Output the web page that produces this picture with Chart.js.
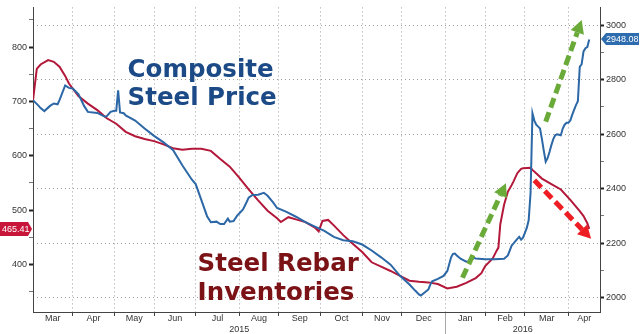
<!DOCTYPE html>
<html lang="en">
<head>
  <meta charset="UTF-8">
  <title>Composite Steel Price vs Steel Rebar Inventories</title>
  <style>
    html, body { margin: 0; padding: 0; background: #fff; }
    #chartcontainer { position: relative; width: 640px; height: 334px; }
  </style>
</head>
<body>
  <div id="chartcontainer">
    <canvas id="myChart"></canvas>
  </div>

  <script src="https://cdn.jsdelivr.net/npm/chart.js"></script>
  <script>
// Composite steel price (right axis)
const priceDates = [
  '2015-03-03', '2015-03-06', '2015-03-09', '2015-03-11', '2015-03-16', '2015-03-18', '2015-03-20', '2015-03-23',
  '2015-03-26', '2015-03-30', '2015-04-01', '2015-04-06', '2015-04-09', '2015-04-13', '2015-04-20', '2015-04-24',
  '2015-04-27', '2015-04-29', '2015-05-01', '2015-05-04', '2015-05-05', '2015-05-06', '2015-05-08', '2015-05-11',
  '2015-05-18', '2015-05-25', '2015-06-01', '2015-06-08', '2015-06-15', '2015-06-22', '2015-06-29', '2015-07-01',
  '2015-07-06', '2015-07-09', '2015-07-13', '2015-07-16', '2015-07-20', '2015-07-22', '2015-07-24', '2015-07-27',
  '2015-07-29', '2015-07-31', '2015-08-03', '2015-08-05', '2015-08-07', '2015-08-10', '2015-08-12', '2015-08-17',
  '2015-08-20', '2015-08-24', '2015-08-27', '2015-08-31', '2015-09-07', '2015-09-14', '2015-09-21', '2015-09-28',
  '2015-10-05', '2015-10-12', '2015-10-19', '2015-10-26', '2015-11-02', '2015-11-09', '2015-11-16', '2015-11-23',
  '2015-11-30', '2015-12-07', '2015-12-10', '2015-12-14', '2015-12-15', '2015-12-17', '2015-12-21', '2015-12-22',
  '2015-12-23', '2015-12-28', '2015-12-31', '2016-01-04', '2016-01-06', '2016-01-07', '2016-01-08', '2016-01-11',
  '2016-01-13', '2016-01-18', '2016-01-20', '2016-01-22', '2016-01-25', '2016-02-01', '2016-02-08', '2016-02-15',
  '2016-02-17', '2016-02-19', '2016-02-22', '2016-02-24', '2016-02-25', '2016-02-26', '2016-02-29', '2016-03-01',
  '2016-03-02', '2016-03-03', '2016-03-04', '2016-03-07', '2016-03-08', '2016-03-09', '2016-03-10', '2016-03-11',
  '2016-03-14', '2016-03-15', '2016-03-16', '2016-03-17', '2016-03-18', '2016-03-21', '2016-03-22', '2016-03-23',
  '2016-03-24', '2016-03-25', '2016-03-28', '2016-03-29', '2016-03-30', '2016-03-31', '2016-04-01', '2016-04-04',
  '2016-04-05', '2016-04-06', '2016-04-07', '2016-04-08', '2016-04-11', '2016-04-12', '2016-04-13', '2016-04-14',
  '2016-04-15', '2016-04-18'
];
const priceValues = [
  2725, 2704, 2696, 2685, 2704, 2713, 2710, 2725,
  2779, 2770, 2768, 2747, 2704, 2682, 2678, 2664,
  2666, 2682, 2686, 2686, 2761, 2680, 2677, 2669,
  2650, 2621, 2594, 2570, 2542, 2485, 2433, 2417,
  2358, 2299, 2277, 2279, 2270, 2270, 2290, 2279,
  2281, 2302, 2309, 2324, 2352, 2367, 2377, 2378,
  2385, 2374, 2349, 2329, 2315, 2297, 2277, 2261,
  2245, 2223, 2211, 2207, 2195, 2173, 2148, 2121,
  2080, 2048, 2026, 2012, 2008, 2019, 2030, 2048,
  2060, 2069, 2080, 2098, 2148, 2161, 2162, 2155,
  2143, 2132, 2134, 2146, 2144, 2141, 2141, 2143,
  2155, 2191, 2199, 2216, 2223, 2213, 2220, 2238,
  2256, 2284, 2385, 2677, 2650, 2635, 2628, 2621,
  2582, 2539, 2499, 2512, 2535, 2560, 2582, 2596,
  2600, 2598, 2596, 2621, 2635, 2642, 2642, 2650,
  2671, 2689, 2707, 2721, 2847, 2857, 2904, 2916,
  2920, 2948.08
];

// Steel rebar inventories (left axis)
const rebarDates = [
  '2015-03-03', '2015-03-05', '2015-03-09', '2015-03-13', '2015-03-18', '2015-03-23', '2015-03-26', '2015-03-30',
  '2015-04-06', '2015-04-13', '2015-04-20', '2015-04-27', '2015-05-04', '2015-05-11', '2015-05-18', '2015-05-25',
  '2015-06-01', '2015-06-08', '2015-06-15', '2015-06-22', '2015-06-29', '2015-07-06', '2015-07-13', '2015-07-20',
  '2015-07-27', '2015-08-03', '2015-08-10', '2015-08-17', '2015-08-24', '2015-08-31', '2015-09-02', '2015-09-08',
  '2015-09-14', '2015-09-21', '2015-09-28', '2015-09-30', '2015-10-02', '2015-10-07', '2015-10-12', '2015-10-19',
  '2015-10-26', '2015-11-02', '2015-11-09', '2015-11-16', '2015-11-23', '2015-11-30', '2015-12-07', '2015-12-14',
  '2015-12-21', '2015-12-28', '2016-01-04', '2016-01-11', '2016-01-18', '2016-01-25', '2016-01-28', '2016-02-01',
  '2016-02-05', '2016-02-08', '2016-02-09', '2016-02-10', '2016-02-11', '2016-02-12', '2016-02-15', '2016-02-17',
  '2016-02-19', '2016-02-22', '2016-02-24', '2016-02-26', '2016-02-29', '2016-03-04', '2016-03-07', '2016-03-14',
  '2016-03-21', '2016-03-28', '2016-04-04', '2016-04-11', '2016-04-13', '2016-04-15', '2016-04-18'
];
const rebarValues = [
  702, 760, 768, 776, 773, 764, 747, 733,
  710, 696, 684, 669, 659, 644, 636, 631,
  627, 621, 614, 611, 613, 613, 609, 594,
  580, 560, 538, 518, 499, 485, 478, 487,
  483, 478, 468, 461, 480, 482, 472, 454,
  438, 423, 404, 396, 388, 379, 370, 368,
  367, 364, 356, 359, 366, 375, 384, 397,
  411, 418, 425, 431, 474, 492, 510, 534,
  546, 553, 568, 576, 577, 578, 574, 558,
  548, 538, 519, 498, 489, 476, 465.41
];

// axis ticks and labels
const monthStarts = ['2015-04-01', '2015-05-01', '2015-06-01', '2015-07-01', '2015-08-01', '2015-09-01', '2015-10-01',
  '2015-11-01', '2015-12-01', '2016-01-01', '2016-02-01', '2016-03-01', '2016-04-01'];
const monthLabels = ['Mar', 'Apr', 'May', 'Jun', 'Jul', 'Aug', 'Sep', 'Oct', 'Nov', 'Dec', 'Jan', 'Feb', 'Mar', 'Apr'];
const yearBreak = '2016-01-01';
const yearLabels = ['2015', '2016'];
const leftTicks = [400, 500, 600, 700, 800];
const leftMinorTicks = [350, 450, 550, 650, 750, 850];
const rightTicks = [2000, 2200, 2400, 2600, 2800, 3000];
const rightMinorTicks = [2100, 2300, 2500, 2700, 2900];

// annotations: [date, right axis value]
const notes = [
  { lines: ['Composite', 'Steel Price'], at: ['2015-05-12', 2811, 2707], color: '#1b4a86' },
  { lines: ['Steel Rebar', 'Inventories'], at: ['2015-07-02', 2098, 1990], color: '#7a1216' }
];
const arrows = [
  { from: ['2016-01-14', 2073], to: ['2016-02-16', 2420], color: '#6aaa38' },
  { from: ['2016-03-16', 2646], to: ['2016-04-12', 3019], color: '#6aaa38' },
  { from: ['2016-03-08', 2431], to: ['2016-04-19', 2216], color: '#ee1d24' }
];

const BLUE = '#2c67a6';
const RED = '#b3183a';
const FONT = 'Liberation Sans';

// weekday count since Mon 2 Mar 2015 (chart skips weekends)
const BASE = Date.UTC(2015, 2, 2);
function tradingDay(s) {
  const [y, m, d] = s.split('-').map(Number);
  const days = Math.round((Date.UTC(y, m - 1, d) - BASE) / 86400000);
  return Math.floor(days / 7) * 5 + Math.min(days % 7, 5);
}

const X_MIN = 1, X_MAX = 300.7;

function buildXTicks() {
  const bounds = monthStarts.map(tradingDay);
  const edges = [X_MIN, ...bounds, X_MAX];
  const ticks = bounds.map(v => ({ value: v, kind: 'bound', text: '' }));
  monthLabels.forEach((m, i) => {
    ticks.push({ value: (edges[i] + edges[i + 1]) / 2, kind: 'month', text: m });
  });
  const yb = tradingDay(yearBreak);
  [[X_MIN, yb], [yb, X_MAX]].forEach(([a, b], i) => {
    ticks.push({ value: (a + b) / 2, kind: 'year', text: ['', yearLabels[i]] });
  });
  return ticks.sort((a, b) => a.value - b.value);
}

function drawArrow(ctx, x1, y1, x2, y2, color) {
  const ang = Math.atan2(y2 - y1, x2 - x1);
  const head = 13, half = 7;
  const bx = x2 - head * Math.cos(ang), by = y2 - head * Math.sin(ang);
  ctx.save();
  ctx.strokeStyle = color;
  ctx.fillStyle = color;
  ctx.lineWidth = 5;
  ctx.setLineDash([10, 5]);
  ctx.beginPath();
  ctx.moveTo(x1, y1);
  ctx.lineTo(bx, by);
  ctx.stroke();
  ctx.setLineDash([]);
  ctx.beginPath();
  ctx.moveTo(x2, y2);
  ctx.lineTo(bx + half * Math.sin(ang), by - half * Math.cos(ang));
  ctx.lineTo(bx - half * Math.sin(ang), by + half * Math.cos(ang));
  ctx.closePath();
  ctx.fill();
  ctx.restore();
}

// last value tags, year separator, texts and arrows
const overlay = {
  id: 'overlay',
  afterDraw(chart) {
    const { ctx, chartArea, scales } = chart;
    const { x, y, y1 } = scales;

    ctx.save();
    // year separator below the axis
    const xb = Math.round(x.getPixelForValue(tradingDay(yearBreak))) + 0.5;
    ctx.strokeStyle = '#a8a8a8';
    ctx.lineWidth = 1;
    ctx.beginPath();
    ctx.moveTo(xb, chartArea.bottom + 1);
    ctx.lineTo(xb, chart.height);
    ctx.stroke();

    // texts
    notes.forEach(n => {
      const nx = x.getPixelForValue(tradingDay(n.at[0]));
      ctx.fillStyle = n.color;
      ctx.font = 'bold 24.5px "DejaVu Sans"';
      ctx.textAlign = 'left';
      ctx.textBaseline = 'alphabetic';
      ctx.fillText(n.lines[0], nx, y1.getPixelForValue(n.at[1]));
      ctx.fillText(n.lines[1], nx, y1.getPixelForValue(n.at[2]));
    });

    arrows.forEach(a => {
      drawArrow(ctx,
        x.getPixelForValue(tradingDay(a.from[0])), y1.getPixelForValue(a.from[1]),
        x.getPixelForValue(tradingDay(a.to[0])), y1.getPixelForValue(a.to[1]), a.color);
    });

    // right tag (price)
    const lastPrice = priceValues[priceValues.length - 1];
    let yc = Math.round(y1.getPixelForValue(lastPrice));
    let xr = chartArea.right;
    ctx.fillStyle = '#2d6cae';
    ctx.beginPath();
    ctx.moveTo(xr + 1, yc);
    ctx.lineTo(xr + 6, yc - 6);
    ctx.lineTo(xr + 39, yc - 6);
    ctx.lineTo(xr + 39, yc + 6);
    ctx.lineTo(xr + 6, yc + 6);
    ctx.closePath();
    ctx.fill();
    ctx.fillStyle = '#fff';
    ctx.font = '9px "' + FONT + '"';
    ctx.textAlign = 'left';
    ctx.textBaseline = 'middle';
    ctx.fillText(lastPrice.toFixed(2), xr + 6, yc + 0.5);

    // left tag (inventories)
    const lastRebar = rebarValues[rebarValues.length - 1];
    yc = Math.round(y.getPixelForValue(lastRebar));
    const xl = chartArea.left;
    ctx.fillStyle = '#c8153a';
    ctx.beginPath();
    ctx.moveTo(0, yc - 7);
    ctx.lineTo(xl - 5, yc - 7);
    ctx.lineTo(xl - 1, yc);
    ctx.lineTo(xl - 5, yc + 7);
    ctx.lineTo(0, yc + 7);
    ctx.closePath();
    ctx.fill();
    ctx.fillStyle = '#fff';
    ctx.fillText(lastRebar.toFixed(2), 2, yc + 0.5);
    ctx.restore();
  }
};

let chart;

function drawChart() {
  const ctx = document.getElementById('myChart').getContext('2d');
  if (chart) {
    chart.destroy();
  }

  const tickFont = { family: FONT, size: 9 };

  chart = new Chart(ctx, {
    type: 'line',
    data: {
      datasets: [
        {
          label: 'Composite Steel Price',
          data: priceDates.map((d, i) => ({ x: tradingDay(d), y: priceValues[i] })),
          yAxisID: 'y1',
          borderColor: BLUE,
          borderWidth: 2,
          pointRadius: 0,
          tension: 0,
          fill: false
        },
        {
          label: 'Steel Rebar Inventories',
          data: rebarDates.map((d, i) => ({ x: tradingDay(d), y: rebarValues[i] })),
          yAxisID: 'y',
          borderColor: RED,
          borderWidth: 2,
          pointRadius: 0,
          tension: 0,
          fill: false
        }
      ]
    },
    options: {
      responsive: true,
      maintainAspectRatio: false,
      animation: false,
      layout: { padding: 0 },
      plugins: {
        legend: { display: false },
        tooltip: { enabled: false },
        title: { display: false }
      },
      scales: {
        x: {
          type: 'linear',
          min: X_MIN,
          max: X_MAX,
          afterBuildTicks: s => { s.ticks = buildXTicks(); },
          afterFit: s => { s.height = 22; },
          border: { display: true, color: '#444', width: 1, dash: [1, 3] },
          grid: {
            drawOnChartArea: true,
            drawTicks: true,
            tickLength: 4,
            color: c => (c.tick && c.tick.kind === 'bound') ? '#a0a0a0' : 'rgba(0,0,0,0)',
            tickColor: c => (c.tick && c.tick.kind === 'bound') ? '#444' : 'rgba(0,0,0,0)'
          },
          ticks: {
            autoSkip: false,
            maxRotation: 0,
            minRotation: 0,
            padding: -2.5,
            color: '#333',
            font: { family: FONT, size: 9, lineHeight: 1.17 },
            callback: (v, i, ticks) => ticks[i].text
          }
        },
        y: {
          position: 'left',
          min: 312.5,
          max: 873.1,
          afterBuildTicks: s => {
            s.ticks = [...leftTicks, ...leftMinorTicks].sort((a, b) => a - b).map(v => ({ value: v }));
          },
          afterFit: s => { s.width = 33; },
          border: { display: true, color: '#444', width: 1 },
          grid: {
            drawOnChartArea: false,
            tickLength: 4,
            tickColor: c => leftTicks.includes(c.tick && c.tick.value) ? '#222' : '#777',
            tickWidth: c => leftTicks.includes(c.tick && c.tick.value) ? 2 : 1
          },
          ticks: {
            padding: 2,
            color: '#333',
            font: tickFont,
            callback: v => leftTicks.includes(v) ? String(v) : ''
          }
        },
        y1: {
          position: 'right',
          min: 1947.3,
          max: 3065.6,
          afterBuildTicks: s => {
            s.ticks = [...rightTicks, ...rightMinorTicks].sort((a, b) => a - b).map(v => ({ value: v }));
          },
          afterFit: s => { s.width = 40; },
          border: { display: true, color: '#444', width: 1, dash: [1, 3] },
          grid: {
            drawOnChartArea: true,
            tickLength: 4,
            color: c => rightTicks.includes(c.tick && c.tick.value) ? '#a0a0a0' : 'rgba(0,0,0,0)',
            tickColor: c => rightTicks.includes(c.tick && c.tick.value) ? '#222' : '#777',
            tickWidth: c => rightTicks.includes(c.tick && c.tick.value) ? 2 : 1
          },
          ticks: {
            padding: 2,
            color: '#333',
            font: tickFont,
            callback: v => rightTicks.includes(v) ? String(v) : ''
          }
        }
      }
    },
    plugins: [overlay]
  });
}

drawChart();
  </script>
</body>
</html>
